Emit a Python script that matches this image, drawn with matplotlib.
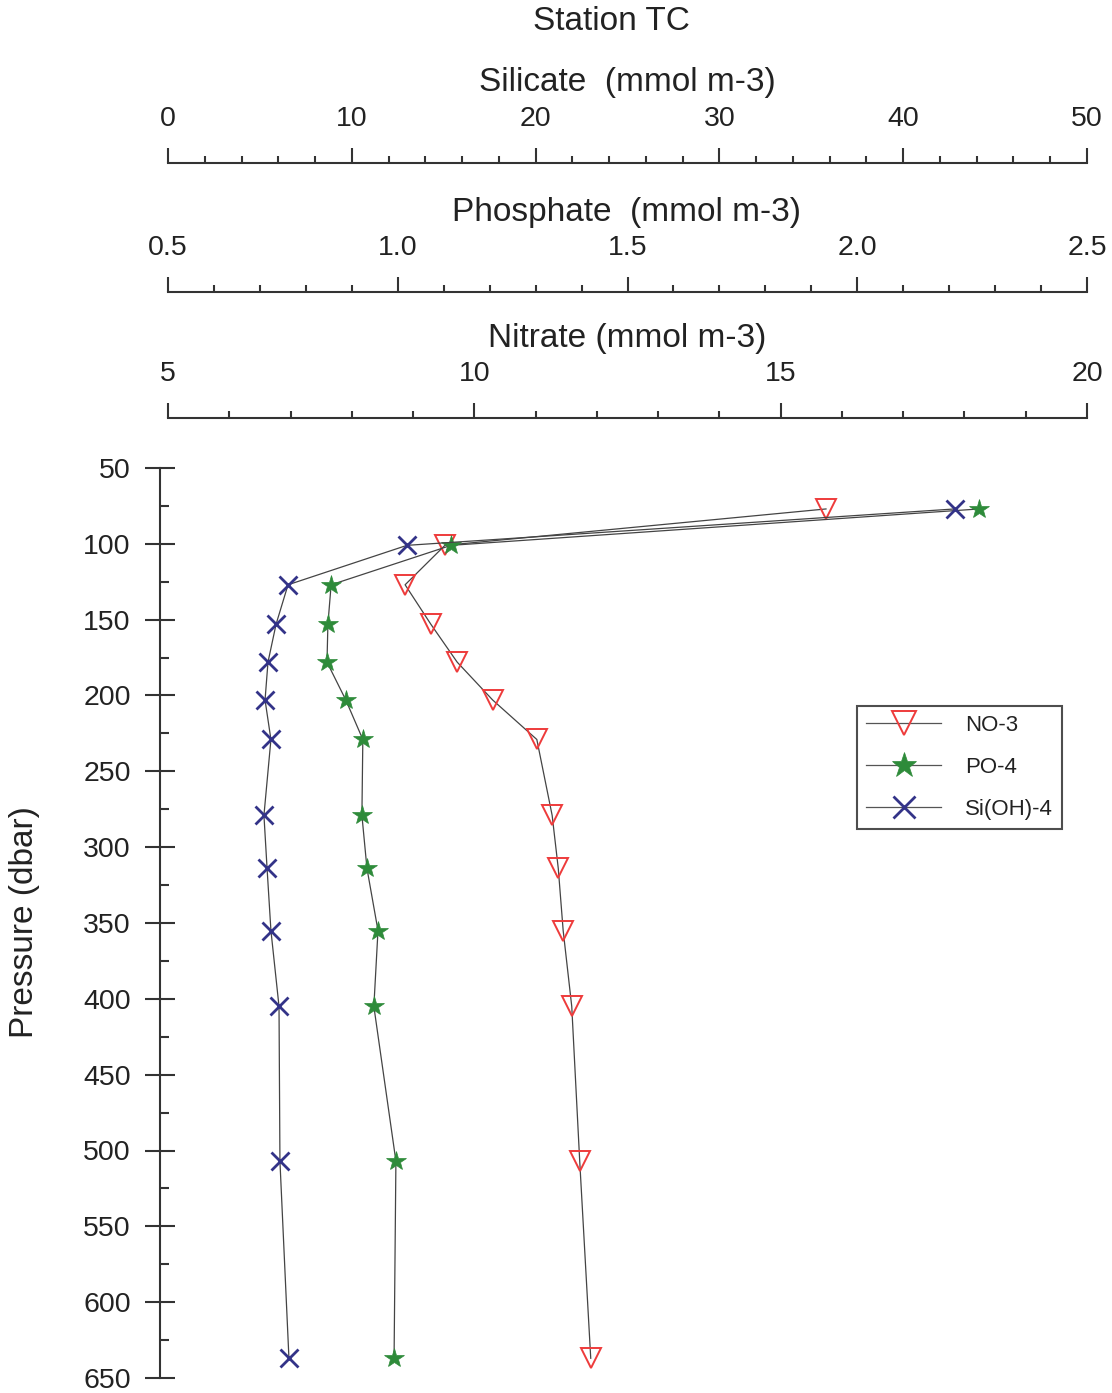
import matplotlib
matplotlib.use("Agg")
import matplotlib.pyplot as plt
from matplotlib.lines import Line2D
from matplotlib.ticker import MultipleLocator

plt.rcParams['font.family'] = ['Liberation Sans', 'DejaVu Sans']

# Sampled pressures (dbar) and nutrient concentrations (mmol m-3)
pressure = [77, 101, 127, 153, 178, 203, 229, 279, 314, 355, 405, 507, 637]
nitrate = [15.74, 9.52, 8.87, 9.29, 9.72, 10.30, 11.02, 11.27, 11.37, 11.45, 11.59, 11.72, 11.90]
phosphate = [2.265, 1.116, 0.855, 0.848, 0.846, 0.887, 0.924, 0.922, 0.933, 0.957, 0.948, 0.996, 0.992]
silicate = [42.8, 13.0, 6.53, 5.88, 5.44, 5.28, 5.60, 5.22, 5.39, 5.60, 6.04, 6.09, 6.58]

pressure_ticks = list(range(50, 651, 50))
silicate_ticks = [0, 10, 20, 30, 40, 50]
phosphate_ticks = [0.5, 1.0, 1.5, 2.0, 2.5]
nitrate_ticks = [5, 10, 15, 20]

W, H = 1112, 1393
fig = plt.figure(figsize=(W / 100, H / 100), dpi=100)


def rect(x0, y_top, x1, y_bot):
    return [x0 / W, 1 - y_bot / H, (x1 - x0) / W, (y_bot - y_top) / H]


TICK_FS = 20.5
TITLE_FS = 24
LINE_C = '#333333'
TEXT_C = '#222222'

# Pressure axis
ax = fig.add_axes(rect(160, 468, 1087, 1378))
ax.set_ylim(650, 50)
ax.set_xlim(0, 1)
for s in ['top', 'right', 'bottom']:
    ax.spines[s].set_visible(False)
ax.spines['left'].set_linewidth(1.5)
ax.spines['left'].set_color(LINE_C)
ax.set_xticks([])
ax.set_yticks(pressure_ticks)
ax.yaxis.set_minor_locator(MultipleLocator(25))
ax.tick_params(axis='y', which='major', direction='inout', length=22, width=1.5,
               color=LINE_C, labelsize=TICK_FS, labelcolor=TEXT_C, pad=10)
ax.tick_params(axis='y', which='minor', direction='in', length=6.5, width=1.5, color=LINE_C)
ax.set_facecolor('none')
fig.text(25 / W, 1 - 922 / H, 'Pressure (dbar)', rotation=90, fontsize=24,
         ha='center', va='center', color=TEXT_C)


# Top concentration scales
def top_scale(y_line, lo, hi, ticks, minor, fmt, title, y_title):
    a = fig.add_axes([168 / W, 1 - y_line / H, (1087 - 168) / W, 1e-5])
    a.set_xlim(lo, hi)
    a.set_yticks([])
    for s in ['top', 'left', 'right']:
        a.spines[s].set_visible(False)
    a.spines['bottom'].set_linewidth(1.5)
    a.spines['bottom'].set_color(LINE_C)
    a.xaxis.set_ticks_position('top')
    a.set_xticks(ticks)
    a.set_xticklabels([fmt.format(t) for t in ticks])
    a.xaxis.set_minor_locator(MultipleLocator(minor))
    a.tick_params(axis='x', which='major', direction='out', length=11, width=1.5,
                  color=LINE_C, labelsize=TICK_FS, labelcolor=TEXT_C, pad=11)
    a.tick_params(axis='x', which='minor', direction='out', length=5, width=1.5, color=LINE_C)
    fig.text(627 / W, 1 - y_title / H, title, fontsize=TITLE_FS, ha='center',
             va='center', color=TEXT_C)
    return a


top_scale(163, 0, 50, silicate_ticks, 2, '{:g}', 'Silicate  (mmol m-3)', 83)
top_scale(292, 0.5, 2.5, phosphate_ticks, 0.1, '{:.1f}', 'Phosphate  (mmol m-3)', 212)
top_scale(418, 5, 20, nitrate_ticks, 1, '{:g}', 'Nitrate (mmol m-3)', 338)
fig.text(611 / W, 1 - 22 / H, 'Station TC', fontsize=TITLE_FS, ha='center',
         va='center', color=TEXT_C)


# Profiles drawn on overlays sharing the pressure range
def overlay(lo, hi):
    a = fig.add_axes(rect(168, 468, 1087, 1378))
    a.set_xlim(lo, hi)
    a.set_ylim(650, 50)
    a.axis('off')
    return a


no3_style = dict(marker='v', markersize=14, markerfacecolor='none',
                 markeredgecolor='#ee3b3b', markeredgewidth=1.4)
po4_style = dict(marker='*', markersize=15, markerfacecolor='#2e8b3a',
                 markeredgecolor='#2e8b3a', markeredgewidth=0.5)
si_style = dict(marker='x', markersize=13, markeredgecolor='#333388',
                markeredgewidth=2)
line_kw = dict(color='#444444', linewidth=0.9, clip_on=False)

ax_n = overlay(5, 20)
ax_n.plot(nitrate, pressure, **line_kw, **no3_style)
ax_p = overlay(0.5, 2.5)
ax_p.plot(phosphate, pressure, **line_kw, **po4_style)
ax_s = overlay(0, 50)
ax_s.plot(silicate, pressure, **line_kw, **si_style)

handles = [
    Line2D([], [], color='#555555', linewidth=0.9, **no3_style),
    Line2D([], [], color='#555555', linewidth=0.9, **po4_style),
    Line2D([], [], color='#555555', linewidth=0.9, **si_style),
]
leg = fig.legend(handles, ['NO-3', 'PO-4', 'Si(OH)-4'], loc='upper left',
                 bbox_to_anchor=(857 / W, 1 - 706 / H), borderaxespad=0,
                 fontsize=16, handlelength=3.4, handletextpad=1.05,
                 labelspacing=0.95, borderpad=0.4, markerscale=1.25,
                 fancybox=False, frameon=True, labelcolor=TEXT_C)
leg.get_frame().set_edgecolor('#222222')
leg.get_frame().set_linewidth(1.5)

fig.savefig('out.png', dpi=100)
